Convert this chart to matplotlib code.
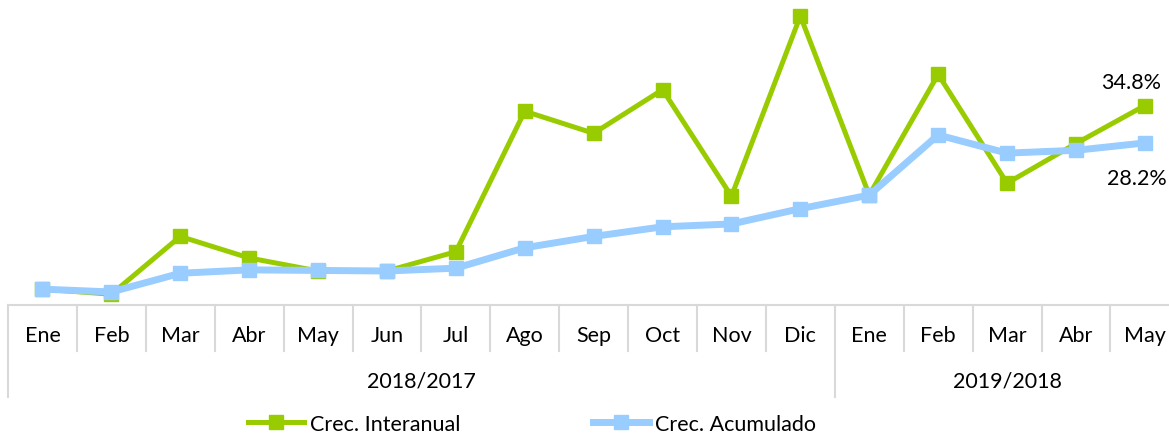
import matplotlib.pyplot as plt
import matplotlib.transforms as mtransforms
from matplotlib.lines import Line2D

months = ["Ene", "Feb", "Mar", "Abr", "May", "Jun", "Jul", "Ago", "Sep",
          "Oct", "Nov", "Dic", "Ene", "Feb", "Mar", "Abr", "May"]
years = ["2018/2017", "2019/2018"]
year_sizes = [12, 5]

interanual = [2.4, 1.5, 11.7, 7.9, 5.6, 5.6, 9.0, 33.8, 29.9, 37.6, 18.8,
              50.6, 19.0, 40.3, 21.1, 28.1, 34.8]
acumulado = [2.4, 1.9, 5.2, 5.8, 5.7, 5.6, 6.1, 9.7, 11.7, 13.4, 13.9,
             16.6, 19.0, 29.6, 26.4, 26.9, 28.2]

green = "#99CC00"
blue = "#99CCFF"
grid = "#D9D9D9"
fs = 15.5

plt.rcParams['font.family'] = ['Lato', 'DejaVu Sans']

W, H = 1169, 439
fig = plt.figure(figsize=(W / 100, H / 100), dpi=100)
ax = fig.add_axes([8 / W, 1 - 306 / H, 1 - 8 / W, 306 / H])

x = list(range(len(months)))
ax.plot(x, interanual, color=green, lw=3.6, marker='s', ms=10,
        clip_on=False, zorder=3)
ax.plot(x, acumulado, color=blue, lw=5, marker='s', ms=10.5,
        clip_on=False, zorder=4)

ax.set_xlim(-0.5, -0.5 + 1161 / 68.9)
ax.set_ylim(-0.4, 53.6)
for s in ["left", "right", "top"]:
    ax.spines[s].set_visible(False)
ax.spines["bottom"].set_color(grid)
ax.spines["bottom"].set_linewidth(1.5)
ax.set_xticks([])
ax.set_yticks([])

# end-of-series value labels
ax.annotate(f"{interanual[-1]:.1f}%", (x[-1], interanual[-1]),
            xytext=(-10, 17), textcoords="offset points",
            ha="center", va="center", fontsize=fs)
ax.annotate(f"{acumulado[-1]:.1f}%", (x[-1], acumulado[-1]),
            xytext=(-6, -25), textcoords="offset points",
            ha="center", va="center", fontsize=fs)

# two-level category axis drawn below the plot
tr = mtransforms.blended_transform_factory(ax.transData, fig.transFigure)


def fy(row):
    return 1 - row / H


for i, m in enumerate(months):
    ax.text(i, fy(336), m, transform=tr, ha="center", va="center",
            fontsize=fs, clip_on=False)

edges = [-0.5]
for n in year_sizes:
    edges.append(edges[-1] + n)
for i in range(len(months) + 1):
    xe = i - 0.5
    bottom = 398 if xe in edges else 352
    ax.add_line(Line2D([xe, xe], [fy(306), fy(bottom)], transform=tr,
                       color=grid, lw=1.5, clip_on=False))

for k, yl in enumerate(years):
    xc = (edges[k] + edges[k + 1]) / 2
    ax.text(xc, fy(382), yl, transform=tr, ha="center", va="center",
            fontsize=fs, clip_on=False)

handles = [
    Line2D([], [], color=green, lw=3.6, marker='s', ms=10),
    Line2D([], [], color=blue, lw=5, marker='s', ms=10.5),
]
fig.legend(handles, ["Crec. Interanual", "Crec. Acumulado"], ncol=2,
           loc="center", bbox_to_anchor=(532 / W, fy(425)), frameon=False,
           fontsize=fs, handlelength=2.6, handletextpad=0.25,
           columnspacing=6.2)

fig.savefig("out.png", dpi=100)
